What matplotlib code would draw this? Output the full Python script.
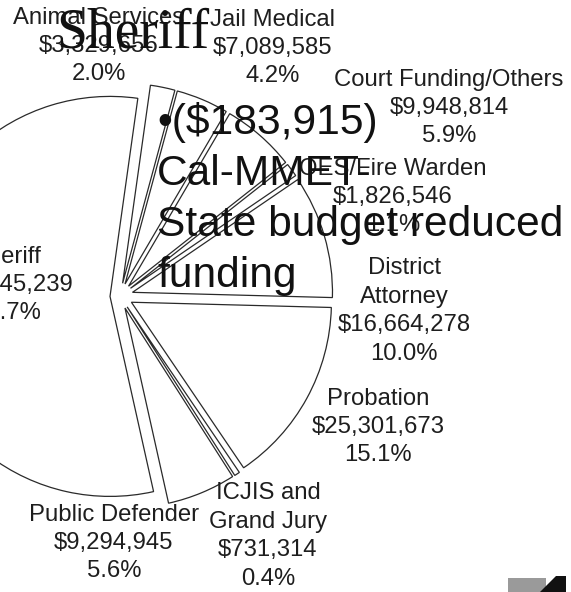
import matplotlib.pyplot as plt
from matplotlib.patches import Polygon, Rectangle

plt.rcParams['font.family'] = ['Liberation Sans', 'DejaVu Sans']

# budget by department (clockwise from 12 o'clock)
departments = ['Animal Services', 'Jail Medical', 'Court Funding/Others', 'OES/Fire Warden',
               'District\nAttorney', 'Probation', 'ICJIS and\nGrand Jury', 'Public Defender', 'Sheriff']
amounts = [3329656, 7089585, 9948814, 1826546, 16664278, 25301673, 731314, 9294945, 93345239]
percents = [2.0, 4.2, 5.9, 1.1, 10.0, 15.1, 0.4, 5.6, 55.7]

note_title = 'Sheriff'
note_lines = ['\u2022($183,915)', 'Cal-MMET-', 'State budget reduced', 'funding']

W, H = 571, 592
CX, CY, R = 120, 296, 200      # pie centre / radius in pixels
label_xy = [(99, 46), (273, 48), (449, 108), (393, 197), (404, 311),
            (378, 427), (268, 536), (114, 543), (7, 285)]
explode = [0.065] * 8 + [0.05]


def px(x, y):
    return x / W, 1 - y / H


fig = plt.figure(figsize=(W / 100, H / 100), dpi=100)
ax = fig.add_axes([0, 0, 1, 1])
ax.pie(amounts, startangle=82, counterclock=False, explode=explode, radius=1,
       wedgeprops=dict(facecolor='white', edgecolor='#2a2a2a', linewidth=0.9))
ax.set_xlim(-CX / R, (W - CX) / R)
ax.set_ylim((CY - H) / R, CY / R)
ax.set_aspect('auto')
ax.axis('off')

for name, amt, pct, (x, y) in zip(departments, amounts, percents, label_xy):
    txt = '%s\n$%s\n%.1f%%' % (name, format(amt, ','), pct)
    fig.text(*px(x, y), txt, ha='center', va='center', fontsize=17.2,
             color='#1e1e1e', linespacing=1.38)

# overlaid annotation
fig.text(*px(56, 47), note_title, family='Liberation Serif', fontsize=40, color='#111111',
         ha='left', va='baseline')
for i, line in enumerate(note_lines):
    fig.text(*px(157, 134 + 51 * i), line, fontsize=30.6, color='#111111',
             ha='left', va='baseline')

# small logo in the corner
fig.patches.append(Rectangle(px(508, 592), 38 / W, 14 / H, transform=fig.transFigure,
                             facecolor='#9a9a9a', edgecolor='none'))
fig.patches.append(Polygon([px(540, 592), px(556, 576), px(566, 576), px(566, 592)],
                           transform=fig.transFigure, facecolor='#111111', edgecolor='none'))

fig.savefig('out.png', dpi=100, facecolor='white')
